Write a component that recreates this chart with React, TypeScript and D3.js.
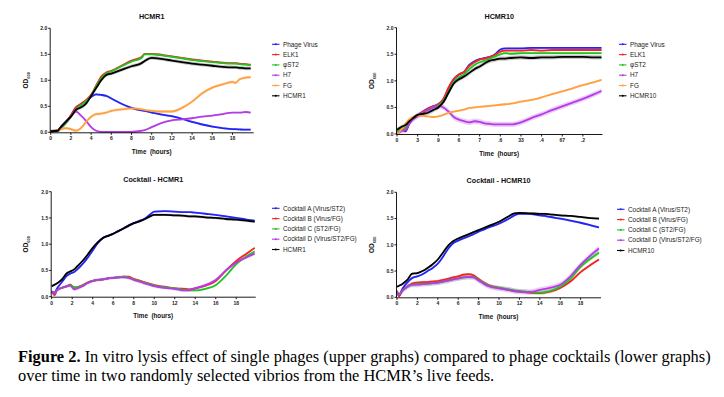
import React, { useEffect, useRef } from 'react';
import * as d3 from 'd3';

// ---- data ----
// panel 1: single phages on HCMR1
const t1 = [0, 0.7, 1, 1.5, 2, 2.5, 3, 3.5, 4, 4.5, 5, 5.5, 6, 7, 8, 9, 9.3, 10, 11, 12, 13, 14, 15, 16, 17, 18, 18.3, 18.7, 19.3, 19.8];
const p1Virus = [0.02, 0.03, 0.1, 0.2, 0.32, 0.48, 0.53, 0.6, 0.68, 0.73, 0.72, 0.7, 0.65, 0.55, 0.47, 0.42, 0.41, 0.38, 0.34, 0.31, 0.26, 0.2, 0.15, 0.11, 0.08, 0.06, 0.06, 0.055, 0.05, 0.05];
const p1Elk1 = [0.02, 0.03, 0.1, 0.2, 0.33, 0.48, 0.55, 0.62, 0.72, 0.9, 1.07, 1.15, 1.18, 1.28, 1.38, 1.45, 1.51, 1.51, 1.49, 1.46, 1.43, 1.4, 1.38, 1.36, 1.34, 1.33, 1.33, 1.32, 1.31, 1.3];
const p1St2 = [0.02, 0.02, 0.07, 0.17, 0.3, 0.44, 0.52, 0.6, 0.7, 0.88, 1.04, 1.13, 1.17, 1.27, 1.36, 1.43, 1.5, 1.5, 1.48, 1.45, 1.42, 1.39, 1.37, 1.35, 1.33, 1.32, 1.32, 1.31, 1.3, 1.29];
const p1H7 = [0.02, 0.03, 0.1, 0.2, 0.3, 0.4, 0.32, 0.22, 0.1, 0.03, 0.01, 0.01, 0.01, 0.01, 0.01, 0.03, 0.04, 0.1, 0.18, 0.23, 0.25, 0.27, 0.3, 0.32, 0.35, 0.38, 0.38, 0.38, 0.39, 0.38];
const p1Fg = [0.02, 0.04, 0.06, 0.08, 0.06, 0.03, 0.08, 0.2, 0.3, 0.35, 0.36, 0.38, 0.41, 0.44, 0.46, 0.44, 0.43, 0.41, 0.4, 0.4, 0.47, 0.59, 0.75, 0.86, 0.92, 0.97, 0.95, 1.02, 1.05, 1.06];
const p1Host = [0.02, 0.03, 0.1, 0.2, 0.3, 0.43, 0.48, 0.55, 0.7, 0.85, 1.0, 1.1, 1.13, 1.2, 1.27, 1.33, 1.37, 1.43, 1.41, 1.38, 1.35, 1.32, 1.3, 1.28, 1.26, 1.25, 1.25, 1.24, 1.23, 1.23];

// panel 2: single phages on HCMR10
const t2 = [0, 0.5, 0.84, 1.2, 1.5, 2, 2.5, 3, 3.5, 4, 4.5, 5, 5.5, 6, 6.5, 7, 7.5, 8, 8.5, 9, 9.5, 10, 10.5, 11, 12, 13, 14, 15, 16, 17, 18, 19, 19.8];
const p2Virus = [0.02, 0.08, 0.05, 0.2, 0.27, 0.35, 0.42, 0.48, 0.52, 0.56, 0.66, 0.86, 1.03, 1.12, 1.17, 1.3, 1.37, 1.41, 1.43, 1.45, 1.5, 1.59, 1.61, 1.61, 1.61, 1.62, 1.62, 1.62, 1.62, 1.62, 1.62, 1.62, 1.62];
const p2Elk1 = [0.03, 0.09, 0.07, 0.2, 0.27, 0.35, 0.42, 0.48, 0.52, 0.56, 0.66, 0.88, 1.04, 1.12, 1.17, 1.28, 1.35, 1.4, 1.42, 1.45, 1.49, 1.55, 1.57, 1.57, 1.57, 1.58, 1.57, 1.58, 1.58, 1.58, 1.58, 1.58, 1.58];
const p2St2 = [0.04, 0.1, 0.12, 0.2, 0.27, 0.34, 0.4, 0.45, 0.5, 0.54, 0.62, 0.8, 0.98, 1.07, 1.12, 1.22, 1.3, 1.35, 1.38, 1.42, 1.46, 1.5, 1.52, 1.51, 1.52, 1.52, 1.52, 1.52, 1.52, 1.52, 1.52, 1.52, 1.52];
const p2H7 = [0.0, 0.06, 0.08, 0.2, 0.27, 0.33, 0.4, 0.45, 0.5, 0.53, 0.5, 0.42, 0.32, 0.27, 0.24, 0.22, 0.24, 0.23, 0.2, 0.19, 0.18, 0.18, 0.18, 0.18, 0.22, 0.3, 0.37, 0.45, 0.52, 0.59, 0.66, 0.74, 0.81];
const p2Fg = [0.0, 0.1, 0.2, 0.28, 0.32, 0.34, 0.34, 0.33, 0.32, 0.33, 0.36, 0.4, 0.42, 0.44, 0.46, 0.49, 0.5, 0.51, 0.52, 0.53, 0.54, 0.55, 0.56, 0.57, 0.61, 0.64, 0.69, 0.75, 0.8, 0.86, 0.92, 0.97, 1.02];
const p2Host = [0.08, 0.14, 0.17, 0.24, 0.29, 0.36, 0.38, 0.4, 0.45, 0.5, 0.6, 0.78, 0.95, 1.03, 1.08, 1.15, 1.22, 1.27, 1.33, 1.38, 1.4, 1.42, 1.42, 1.43, 1.44, 1.43, 1.44, 1.44, 1.45, 1.45, 1.45, 1.44, 1.44];

// panel 3: cocktails on HCMR1
const t3 = [0, 0.3, 0.5, 1, 1.5, 1.8, 2.2, 2.5, 3, 3.5, 4, 4.5, 5, 5.5, 6, 6.5, 7, 7.5, 8, 8.5, 9, 9.5, 10, 11, 12, 13, 13.5, 14, 15, 16, 17, 18, 19, 19.8];
const p3A = [0.1, 0.08, 0.15, 0.28, 0.4, 0.44, 0.47, 0.52, 0.62, 0.74, 0.88, 1.02, 1.12, 1.16, 1.2, 1.25, 1.3, 1.36, 1.4, 1.44, 1.48, 1.55, 1.62, 1.63, 1.62, 1.61, 1.61, 1.6, 1.58, 1.56, 1.53, 1.5, 1.47, 1.45];
const p3B = [0.1, 0.03, 0.12, 0.17, 0.2, 0.23, 0.17, 0.18, 0.22, 0.27, 0.3, 0.32, 0.33, 0.35, 0.36, 0.37, 0.38, 0.38, 0.34, 0.31, 0.28, 0.25, 0.22, 0.19, 0.16, 0.15, 0.14, 0.16, 0.21, 0.3, 0.5, 0.68, 0.82, 0.93];
const p3C = [0.1, 0.06, 0.12, 0.17, 0.2, 0.22, 0.18, 0.18, 0.21, 0.26, 0.3, 0.32, 0.33, 0.35, 0.36, 0.37, 0.38, 0.37, 0.33, 0.3, 0.27, 0.24, 0.21, 0.18, 0.16, 0.13, 0.12, 0.12, 0.15, 0.22, 0.4, 0.62, 0.77, 0.86];
const p3D = [0.1, 0.06, 0.12, 0.17, 0.2, 0.21, 0.14, 0.16, 0.2, 0.26, 0.3, 0.32, 0.33, 0.35, 0.36, 0.37, 0.37, 0.36, 0.32, 0.29, 0.26, 0.23, 0.2, 0.17, 0.15, 0.12, 0.13, 0.16, 0.22, 0.32, 0.5, 0.65, 0.75, 0.82];
const p3Host = [0.2, 0.23, 0.25, 0.33, 0.45, 0.48, 0.52, 0.58, 0.68, 0.8, 0.93, 1.04, 1.12, 1.16, 1.2, 1.25, 1.3, 1.35, 1.4, 1.43, 1.47, 1.52, 1.56, 1.56, 1.55, 1.54, 1.53, 1.53, 1.51, 1.5, 1.48, 1.47, 1.45, 1.43];

// panel 4: cocktails on HCMR10
const t4 = [0, 0.2, 0.5, 1, 1.5, 2, 2.5, 3, 3.5, 4, 4.5, 5, 5.5, 6, 6.5, 7, 7.5, 8, 8.5, 9, 10, 11, 11.5, 12, 13, 14, 14.5, 15, 16, 17, 18, 19, 19.8];
const p4A = [0.12, 0.03, 0.15, 0.28, 0.37, 0.4, 0.44, 0.5, 0.56, 0.64, 0.77, 0.92, 1.03, 1.08, 1.12, 1.16, 1.2, 1.25, 1.29, 1.33, 1.4, 1.5, 1.56, 1.59, 1.59, 1.56, 1.55, 1.53, 1.5, 1.46, 1.42, 1.37, 1.33];
const p4B = [0.12, 0.02, 0.12, 0.2, 0.26, 0.28, 0.29, 0.29, 0.3, 0.31, 0.33, 0.35, 0.38, 0.4, 0.43, 0.44, 0.42, 0.35, 0.28, 0.23, 0.18, 0.14, 0.12, 0.11, 0.09, 0.08, 0.09, 0.11, 0.18, 0.3, 0.48, 0.62, 0.72];
const p4C = [0.1, 0.05, 0.12, 0.2, 0.24, 0.25, 0.26, 0.26, 0.27, 0.28, 0.3, 0.32, 0.34, 0.36, 0.38, 0.39, 0.39, 0.33, 0.27, 0.22, 0.18, 0.15, 0.13, 0.12, 0.1, 0.09, 0.1, 0.12, 0.2, 0.35, 0.58, 0.74, 0.85];
const p4D = [0.1, 0.05, 0.12, 0.2, 0.24, 0.24, 0.25, 0.26, 0.27, 0.28, 0.3, 0.32, 0.34, 0.36, 0.38, 0.39, 0.38, 0.32, 0.26, 0.21, 0.17, 0.14, 0.12, 0.11, 0.1, 0.14, 0.16, 0.18, 0.24, 0.4, 0.62, 0.8, 0.93];
const p4Host = [0.2, 0.22, 0.25, 0.33, 0.45, 0.46, 0.5, 0.56, 0.63, 0.72, 0.85, 0.98, 1.07, 1.12, 1.16, 1.2, 1.24, 1.28, 1.32, 1.36, 1.44, 1.55, 1.6, 1.61, 1.6, 1.59, 1.59, 1.58, 1.56, 1.55, 1.53, 1.51, 1.5];

// legend labels
const singleLabels1 = ['Phage Virus', 'ELK1', 'φST2', 'H7', 'FG', 'HCMR1'];
const singleLabels2 = ['Phage Virus', 'ELK1', 'φST2', 'H7', 'FG', 'HCMR10'];
const cocktailLabels1 = ['Cocktail A (Virus/ST2)', 'Cocktail B (Virus/FG)', 'Cocktail C (ST2/FG)', 'Cocktail D (Virus/ST2/FG)', 'HCMR1'];
const cocktailLabels2 = ['Cocktail A (Virus/ST2)', 'Cocktail B (Virus/FG)', 'Cocktail C (ST2/FG)', 'Cocktail D (Virus/ST2/FG)', 'HCMR10'];

// spread (SD band) per series
const sdSingle1 = [0.02, 0.015, 0.015, 0.015, 0.03, 0.035];
const sdSingle2 = [0.015, 0.02, 0.025, 0.05, 0.02, 0.04];
const sdCocktail1 = [0.015, 0.02, 0.02, 0.03, 0.025];
const sdCocktail2 = [0.02, 0.025, 0.04, 0.05, 0.02];

const yTicks = [0, 0.5, 1, 1.5, 2];
const xTicks = [0, 2, 4, 6, 8, 10, 12, 14, 16, 18];
const xTickLabels2 = ['0', '3', '9', '6', '7', '.6', '33', '.4', '67', '.2'];

const singleColors = ['#2323f5', '#f52323', '#22c322', '#b43ce6', '#ffa040', '#000000'];
const cocktailColors = ['#2323f5', '#f52323', '#22c322', '#b43ce6', '#000000'];

const panels = [
  { title: 'HCMR1', t: t1, series: [p1Virus, p1Elk1, p1St2, p1H7, p1Fg, p1Host], labels: singleLabels1, sd: sdSingle1, colors: singleColors,
    x0: 50.7, x1: 252.7, xMax: 20, yb: 132.3, yt: 28.3, titleY: 19, xLabelY: 154, yLabelX: 28, legX: 272, legY: 44.3, legStep: 10.3, tickLabels: null },
  { title: 'HCMR10', t: t2, series: [p2Virus, p2Elk1, p2St2, p2H7, p2Fg, p2Host], labels: singleLabels2, sd: sdSingle2, colors: singleColors,
    x0: 397, x1: 601.5, xMax: 19.8, yb: 134, yt: 27.7, titleY: 19, xLabelY: 156, yLabelX: 374, legX: 619, legY: 44.3, legStep: 10.3, tickLabels: xTickLabels2 },
  { title: 'Cocktail - HCMR1', t: t3, series: [p3A, p3B, p3C, p3D, p3Host], labels: cocktailLabels1, sd: sdCocktail1, colors: cocktailColors,
    x0: 51.7, x1: 254.7, xMax: 19.8, yb: 296.7, yt: 191.7, titleY: 182, xLabelY: 318, yLabelX: 28, legX: 272, legY: 208.3, legStep: 10.3, tickLabels: null },
  { title: 'Cocktail - HCMR10', t: t4, series: [p4A, p4B, p4C, p4D, p4Host], labels: cocktailLabels2, sd: sdCocktail2, colors: cocktailColors,
    x0: 397, x1: 600, xMax: 19.9, yb: 297.3, yt: 192.3, titleY: 183, xLabelY: 319, yLabelX: 374, legX: 617, legY: 209.3, legStep: 10.3, tickLabels: null },
];

const W = 724;
const H = 397;
const sans = 'Arial, "Liberation Sans", Helvetica, sans-serif';
const serif = '"Liberation Serif", "Times New Roman", serif';

export default function App() {
  const ref = useRef<SVGSVGElement>(null);

  useEffect(() => {
    const svg = d3.select(ref.current);
    svg.selectAll('*').remove();
    svg.append('rect').attr('width', W).attr('height', H).attr('fill', '#fff');

    panels.forEach((p) => {
      const g = svg.append('g');
      const x = d3.scaleLinear().domain([0, p.xMax]).range([p.x0, p.x1]);
      const y = d3.scaleLinear().domain([0, 2]).range([p.yb, p.yt]);
      const axisX = p.x0 - 0.5;

      // error bands then lines
      p.series.forEach((vals, i) => {
        const pts = p.t.map((tt, k) => ({ t: tt, v: vals[k] }));
        const sd = p.sd[i];
        const area = d3.area<{ t: number; v: number }>()
          .x((d) => x(d.t))
          .y0((d) => y(Math.max(0, d.v - sd)))
          .y1((d) => y(d.v + sd))
          .curve(d3.curveMonotoneX);
        g.append('path').attr('d', area(pts)).attr('fill', p.colors[i]).attr('opacity', i === p.series.length - 1 ? 0.22 : 0.25);
      });
      p.series.forEach((vals, i) => {
        const pts = p.t.map((tt, k) => ({ t: tt, v: vals[k] }));
        const line = d3.line<{ t: number; v: number }>()
          .x((d) => x(d.t))
          .y((d) => y(d.v))
          .curve(d3.curveMonotoneX);
        g.append('path').attr('d', line(pts)).attr('fill', 'none')
          .attr('stroke', p.colors[i]).attr('stroke-width', 1.8);
      });

      // axes
      g.append('line').attr('x1', axisX).attr('x2', axisX).attr('y1', p.yt).attr('y2', p.yb + 0.5)
        .attr('stroke', '#000').attr('stroke-width', 0.9);
      g.append('line').attr('x1', axisX).attr('x2', p.x1 + 1).attr('y1', p.yb + 0.5).attr('y2', p.yb + 0.5)
        .attr('stroke', '#000').attr('stroke-width', 0.9);
      yTicks.forEach((v) => {
        g.append('line').attr('x1', axisX - 2).attr('x2', axisX).attr('y1', y(v)).attr('y2', y(v))
          .attr('stroke', '#000').attr('stroke-width', 0.9);
        g.append('text').attr('x', axisX - 3).attr('y', y(v) + 1.8).attr('text-anchor', 'end')
          .attr('font-family', sans).attr('font-size', 5).attr('font-weight', 'bold').attr('fill', '#222')
          .text(d3.format('.1f')(v));
      });
      xTicks.forEach((v, k) => {
        g.append('line').attr('x1', x(v)).attr('x2', x(v)).attr('y1', p.yb + 0.5).attr('y2', p.yb + 2.5)
          .attr('stroke', '#000').attr('stroke-width', 0.9);
        g.append('text').attr('x', x(v)).attr('y', p.yb + 8).attr('text-anchor', 'middle')
          .attr('font-family', sans).attr('font-size', 5).attr('font-weight', 'bold').attr('fill', '#222')
          .text(p.tickLabels ? p.tickLabels[k] : String(v));
      });

      const midX = (p.x0 + p.x1) / 2;
      g.append('text').attr('x', midX).attr('y', p.titleY).attr('text-anchor', 'middle')
        .attr('font-family', sans).attr('font-size', 7.2).attr('font-weight', 'bold').attr('fill', '#111')
        .text(p.title);
      g.append('text').attr('x', midX).attr('y', p.xLabelY).attr('text-anchor', 'middle')
        .attr('font-family', sans).attr('font-size', 6.3).attr('font-weight', 'bold').attr('fill', '#111')
        .attr('xml:space', 'preserve').text('Time  (hours)');
      const yl = g.append('text')
        .attr('transform', `translate(${p.yLabelX},${(p.yt + p.yb) / 2}) rotate(-90)`)
        .attr('text-anchor', 'middle').attr('font-family', sans).attr('font-size', 6.5)
        .attr('font-weight', 'bold').attr('fill', '#111');
      yl.append('tspan').text('OD');
      yl.append('tspan').attr('font-size', 4).attr('dy', 1.5).text('600');

      // legend
      p.labels.forEach((lab, i) => {
        const ly = p.legY + i * p.legStep;
        g.append('line').attr('x1', p.legX).attr('x2', p.legX + 7.5).attr('y1', ly).attr('y2', ly)
          .attr('stroke', p.colors[i]).attr('stroke-width', 1.1);
        g.append('circle').attr('cx', p.legX + 3.75).attr('cy', ly).attr('r', 1)
          .attr('fill', p.colors[i]);
        g.append('text').attr('x', p.legX + 11).attr('y', ly + 2.2)
          .attr('font-family', sans).attr('font-size', 6.4).attr('fill', '#222').text(lab);
      });
    });

    // caption
    const cap = svg.append('text').attr('x', 18).attr('y', 362)
      .attr('font-family', serif).attr('font-size', 16.4).attr('fill', '#000');
    cap.append('tspan').attr('font-weight', 'bold').text('Figure 2.');
    cap.append('tspan').text(' In vitro lysis effect of single phages (upper graphs) compared to phage cocktails (lower graphs)');
    svg.append('text').attr('x', 18).attr('y', 381)
      .attr('font-family', serif).attr('font-size', 16.4).attr('fill', '#000')
      .text('over time in two randomly selected vibrios from the HCMR’s live feeds.');
  }, []);

  return (
    <svg ref={ref} width={W} height={H} style={{ position: 'absolute', left: 0, top: 0, display: 'block' }} />
  );
}
